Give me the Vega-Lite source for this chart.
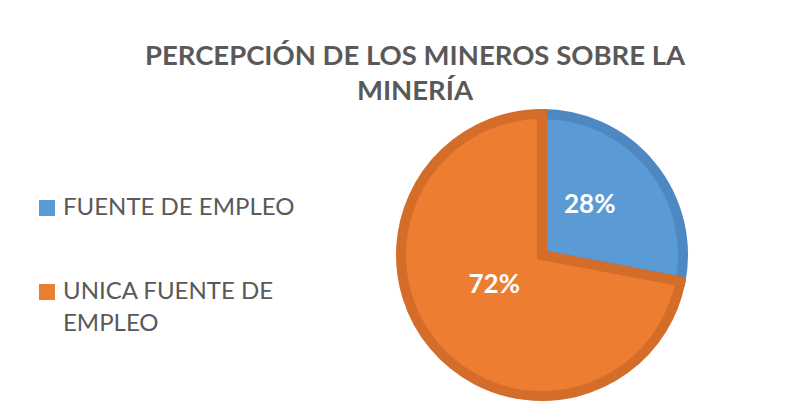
{
  "$schema": "https://vega.github.io/schema/vega-lite/v6.json",
  "width": 304,
  "height": 310,
  "autosize": {"type": "none"},
  "padding": {"left": 390, "top": 100, "right": 113, "bottom": 6},
  "background": "white",
  "title": {
    "text": ["PERCEPCIÓN DE LOS MINEROS SOBRE LA", "MINERÍA"],
    "font": "Lato",
    "fontSize": 27.5,
    "fontWeight": "bold",
    "color": "#595959",
    "anchor": "middle",
    "dx": -127,
    "dy": 17,
    "lineHeight": 35,
    "offset": 6
  },
  "data": {
    "values": [
      {"categoria": "FUENTE DE EMPLEO", "porcentaje": 28, "orden": 1, "etiqueta": "28%"},
      {"categoria": "UNICA FUENTE DE EMPLEO", "porcentaje": 72, "orden": 2, "etiqueta": "72%"}
    ]
  },
  "encoding": {
    "theta": {"field": "porcentaje", "type": "quantitative", "stack": true},
    "order": {"field": "orden", "type": "quantitative"}
  },
  "layer": [
    {
      "mark": {"type": "arc", "outerRadius": 141, "strokeWidth": 10, "strokeJoin": "miter"},
      "encoding": {
        "color": {
          "field": "categoria",
          "type": "nominal",
          "scale": {"domain": ["FUENTE DE EMPLEO", "UNICA FUENTE DE EMPLEO"], "range": ["#5B9BD5", "#ED7D31"]},
          "legend": {
            "orient": "none",
            "legendX": -355,
            "legendY": 96,
            "title": null,
            "symbolType": "square",
            "symbolSize": 256,
            "symbolStrokeWidth": 0,
            "labelFont": "Lato",
            "labelFontSize": 24,
            "labelColor": "#595959",
            "labelLimit": 400,
            "labelOffset": 4,
            "rowPadding": 60,
            "labelExpr": "datum.label == 'UNICA FUENTE DE EMPLEO' ? ['UNICA FUENTE DE', 'EMPLEO'] : datum.label",
            "encode": {"labels": {"update": {"lineHeight": {"value": 32}}}}
          }
        },
        "stroke": {
          "field": "categoria",
          "type": "nominal",
          "scale": {"domain": ["FUENTE DE EMPLEO", "UNICA FUENTE DE EMPLEO"], "range": ["#4E88C2", "#D56D2A"]},
          "legend": null
        }
      }
    },
    {
      "mark": {"type": "text", "radius": 62, "dy": -10, "font": "Lato", "fontSize": 26, "fontWeight": "bold", "fill": "white", "baseline": "middle", "align": "center"},
      "encoding": {"text": {"field": "etiqueta", "type": "nominal"}}
    }
  ],
  "config": {"view": {"stroke": null}}
}
